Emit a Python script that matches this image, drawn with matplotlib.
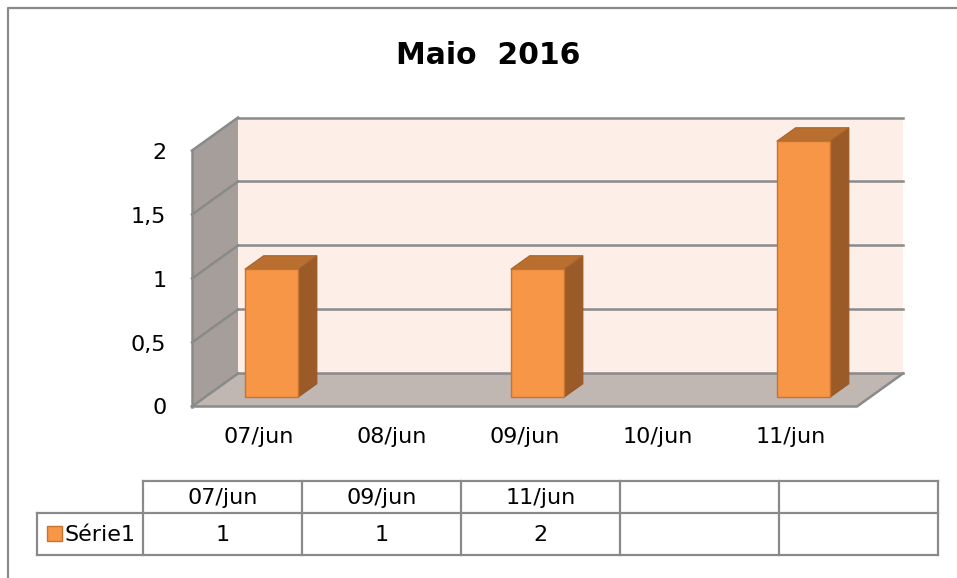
import matplotlib.pyplot as plt
from matplotlib.patches import Polygon, Rectangle

# === DATA ===
categories = ["07/jun", "08/jun", "09/jun", "10/jun", "11/jun"]
series_dates = ["07/jun", "09/jun", "11/jun"]
series_values = [1, 1, 2]
series_name = "Série1"
y_ticks = [0, 0.5, 1, 1.5, 2]
y_tick_labels = ["0", "0,5", "1", "1,5", "2"]
title = "Maio  2016"
table_header = ["07/jun", "09/jun", "11/jun", "", ""]
table_values = ["1", "1", "2", "", ""]

# === STYLE ===
W, H = 957, 578
DX, DY = 0.346, 0.258      # depth of the 3D box, in data units
FRONT, DEPTH = 0.28, 0.41  # bar position / depth as fraction of box depth
BAR_W = 0.40
LINE = "#8a8a8a"
FS = 16

fig = plt.figure(figsize=(W / 100, H / 100), dpi=100)

# background axes in pixel units (frame + data table)
bg = fig.add_axes([0, 0, 1, 1])
bg.set_xlim(0, W)
bg.set_ylim(H, 0)
bg.axis("off")
bg.plot([8, 8, W + 5], [H + 5, 8, 8], color=LINE, lw=1.6, clip_on=False)

fig.text(488 / W, 1 - 63.5 / H, title, ha="center", va="baseline",
         fontsize=21.5, fontweight="bold")

# === 3D column chart ===
ax = fig.add_axes([192 / W, 1 - 406.5 / H, 711 / W, 289 / H])
ax.set_facecolor("none")
ax.set_xlim(-0.5, len(categories) - 0.5 + DX)
ax.set_ylim(0, max(y_ticks) + DY)
for s in ax.spines.values():
    s.set_visible(False)

x_lo, x_hi = -0.5, len(categories) - 0.5
y_top = max(y_ticks)

# walls and floor
ax.add_patch(Polygon([(x_lo + DX, DY), (x_hi + DX, DY), (x_hi + DX, y_top + DY), (x_lo + DX, y_top + DY)],
                     closed=True, facecolor="#fdeee7", edgecolor="none", zorder=0))
ax.add_patch(Polygon([(x_lo, 0), (x_lo + DX, DY), (x_lo + DX, y_top + DY), (x_lo, y_top)],
                     closed=True, facecolor="#a59e9b", edgecolor="none", zorder=0))
ax.add_patch(Polygon([(x_lo, 0), (x_hi, 0), (x_hi + DX, DY), (x_lo + DX, DY)],
                     closed=True, facecolor="#c0b6b2", edgecolor="none", zorder=0))

# gridlines on back wall and left wall
for v in y_ticks:
    ax.plot([x_lo + DX, x_hi + DX], [v + DY, v + DY], color=LINE, lw=1.8, zorder=1, clip_on=False)
    ax.plot([x_lo, x_lo + DX], [v, v + DY], color=LINE, lw=1.8, zorder=1, clip_on=False)
ax.plot([x_lo, x_lo], [0, y_top], color=LINE, lw=1.8, zorder=1, clip_on=False)
ax.plot([x_lo, x_hi, x_hi + DX], [0, 0, DY], color=LINE, lw=1.8, zorder=1, clip_on=False)

# bars
pos = [categories.index(d) for d in series_dates]
bars = ax.bar([p + FRONT * DX for p in pos], series_values, width=BAR_W, bottom=FRONT * DY,
              color="#f79646", edgecolor="#c8732f", linewidth=1.0, zorder=3)
ddx, ddy = DEPTH * DX, DEPTH * DY
for b in bars:
    x0, y0 = b.get_x(), b.get_y()
    x1, y1 = x0 + b.get_width(), y0 + b.get_height()
    ax.add_patch(Polygon([(x1, y0), (x1 + ddx, y0 + ddy), (x1 + ddx, y1 + ddy), (x1, y1)],
                         closed=True, facecolor="#9b5b28", edgecolor="#985826", lw=0.8, zorder=2))
    ax.add_patch(Polygon([(x0, y1), (x1, y1), (x1 + ddx, y1 + ddy), (x0 + ddx, y1 + ddy)],
                         closed=True, facecolor="#b96f30", edgecolor="#a8642b", lw=0.8, zorder=2))

ax.set_yticks(y_ticks)
ax.set_yticklabels(y_tick_labels, fontsize=FS)
ax.set_xticks(range(len(categories)))
ax.set_xticklabels(categories, fontsize=FS)
ax.tick_params(axis="y", length=0, pad=18.5)
ax.tick_params(axis="x", length=0, pad=15)

# === data table ===
col_edges = [143 + 159 * k for k in range(len(table_header) + 1)]
r0, r1, r2 = 481, 513, 555
bg.plot([col_edges[0], col_edges[-1]], [r0, r0], color=LINE, lw=1.6)
bg.plot([37, col_edges[-1]], [r1, r1], color=LINE, lw=1.6)
bg.plot([37, col_edges[-1]], [r2, r2], color=LINE, lw=1.6)
bg.plot([37, 37], [r1, r2], color=LINE, lw=1.6)
for xe in col_edges:
    bg.plot([xe, xe], [r0, r2], color=LINE, lw=1.6)
for k, (hdr, val) in enumerate(zip(table_header, table_values)):
    cx = (col_edges[k] + col_edges[k + 1]) / 2
    bg.text(cx, (r0 + r1) / 2 + 1, hdr, ha="center", va="center", fontsize=FS)
    bg.text(cx, (r1 + r2) / 2 + 1, val, ha="center", va="center", fontsize=FS)
bg.add_patch(Rectangle((47, 526), 15, 15, facecolor="#f79646", edgecolor="#c8732f", lw=1.0))
bg.text(65, (r1 + r2) / 2 + 1, series_name, ha="left", va="center", fontsize=FS)

plt.savefig("out.png", dpi=100)
plt.close()
